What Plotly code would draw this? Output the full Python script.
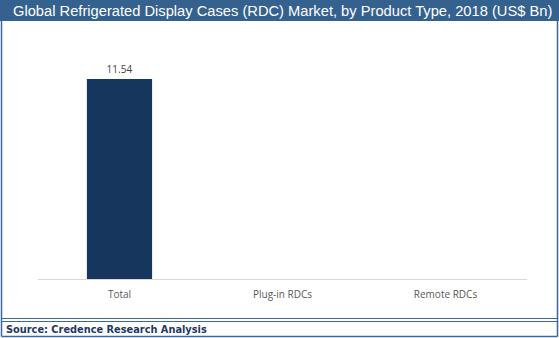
import plotly.graph_objects as go

categories = ["Total", "Plug-in RDCs", "Remote RDCs"]
values = [11.54, None, None]
labels = ["11.54", "", ""]

W, H = 559, 338
L, R, T, B = 38, 32, 35, 59
PW, PH = W - L - R, H - T - B

def px(x):
    return (x - L) / PW

def py(y):
    return (H - B - y) / PH

BLUE = "#35618F"
BORDER = "#3B679E"

fig = go.Figure()
fig.add_trace(go.Bar(
    x=categories, y=values, width=0.4,
    marker=dict(color="#17365D", line=dict(width=0)),
    text=labels, textposition="outside",
    textfont=dict(family="Open Sans", size=10, color="#404040"),
    cliponaxis=False,
))

shapes = [
    dict(type="rect", xref="paper", yref="paper", x0=px(0), x1=px(W), y0=py(0), y1=py(21),
         fillcolor=BLUE, line=dict(width=0), layer="above"),
    dict(type="line", xref="paper", yref="paper", x0=px(1.5), x1=px(1.5), y0=py(21), y1=py(336.5),
         line=dict(color=BORDER, width=1.5)),
    dict(type="line", xref="paper", yref="paper", x0=px(557.5), x1=px(557.5), y0=py(21), y1=py(336.5),
         line=dict(color=BORDER, width=1.5)),
    dict(type="line", xref="paper", yref="paper", x0=px(1.5), x1=px(557.5), y0=py(336.5), y1=py(336.5),
         line=dict(color=BORDER, width=1.5)),
    dict(type="line", xref="paper", yref="paper", x0=px(1.5), x1=px(557.5), y0=py(318.5), y1=py(318.5),
         line=dict(color=BORDER, width=1)),
    dict(type="line", xref="paper", yref="paper", x0=px(1.5), x1=px(557.5), y0=py(321.5), y1=py(321.5),
         line=dict(color=BORDER, width=1)),
]

annotations = [
    dict(text="Global Refrigerated Display Cases (RDC) Market, by Product Type, 2018 (US$ Bn)",
         xref="paper", yref="paper", x=px(W / 2 + 3), y=py(11), xanchor="center", yanchor="middle",
         showarrow=False, font=dict(family="Liberation Sans, Arial", size=14.7, color="white")),
    dict(text="<b>Source: Credence Research Analysis</b>",
         xref="paper", yref="paper", x=px(4), y=py(329), xanchor="left", yanchor="middle",
         showarrow=False, font=dict(family="DejaVu Sans, Verdana", size=9.8, color="#1F3864")),
]

fig.update_layout(
    width=W, height=H,
    margin=dict(l=L, r=R, t=T, b=B),
    paper_bgcolor="white", plot_bgcolor="white",
    showlegend=False,
    shapes=shapes, annotations=annotations,
    xaxis=dict(showline=True, linecolor="#D9D9D9", linewidth=1, ticks="",
               ticklabelstandoff=6,
               tickfont=dict(family="Open Sans", size=10, color="#595959"),
               showgrid=False, zeroline=False, fixedrange=True),
    yaxis=dict(range=[0, 11.54 * PH / 200], visible=False, showgrid=False, zeroline=False),
    bargap=0.6,
)

fig.write_html("out.html")
